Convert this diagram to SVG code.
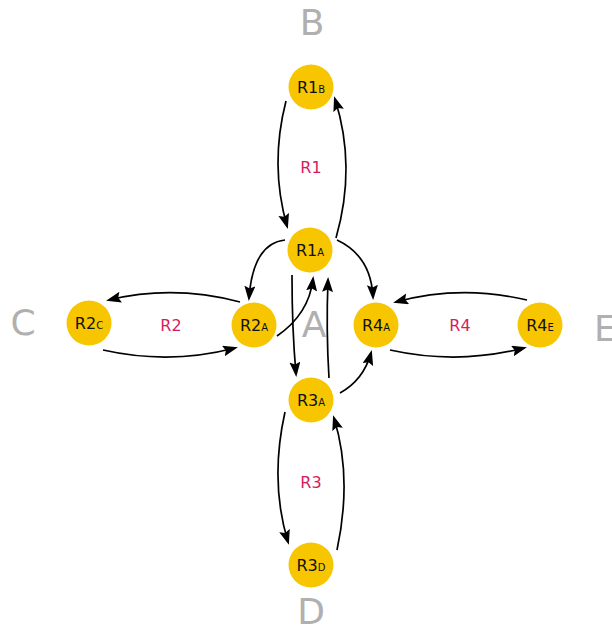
<svg xmlns="http://www.w3.org/2000/svg" width="612" height="630" viewBox="0 0 612 630">
<style>
.node circle{fill:#f7c600}
.node text{font-family:"DejaVu Sans",sans-serif;font-size:16px;fill:#111;text-anchor:middle}
.sub{font-size:10px}
.region{font-family:"DejaVu Sans",sans-serif;font-size:36px;fill:#b0b0b0}
.rl{font-family:"DejaVu Sans",sans-serif;font-size:16px;fill:#d81b60;text-anchor:middle}
.edges path{fill:none;stroke:#000;stroke-width:1.7;marker-end:url(#ah)}
</style>
<defs>
<marker id="ah" markerUnits="userSpaceOnUse" markerWidth="16" markerHeight="12" refX="12" refY="5.5" orient="auto">
<path d="M0,0 L15,5.5 L0,11 L2.5,5.5 z" fill="#000"/>
</marker>
</defs>
<rect width="612" height="630" fill="#fff"/>
<g id="regions">
<text class="region" x="312" y="35" text-anchor="middle">B</text>
<text class="region" x="23" y="335" text-anchor="middle">C</text>
<text class="region" x="311" y="624" text-anchor="middle">D</text>
<text class="region" x="594" y="341">E</text>
<text class="region" x="314" y="337" text-anchor="middle">A</text>
</g>
<g id="labels">
<text class="rl" x="311" y="173">R1</text>
<text class="rl" x="171" y="331">R2</text>
<text class="rl" x="311" y="488">R3</text>
<text class="rl" x="460" y="331">R4</text>
</g>
<g class="edges" id="connectors">
<path d="M286,101 Q269.5,165 287,226"/>
<path d="M336,238 Q356.5,166.5 335,99"/>
<path d="M285,240 Q253,243.5 249,298"/>
<path d="M337,240 Q371,256 373,297"/>
<path d="M277,336 Q309,314 313,279"/>
<path d="M292,275 Q292,330 296,374"/>
<path d="M329,378 Q326,330 328,280"/>
<path d="M340,393 Q363.5,380 371,353"/>
<path d="M240,302 Q173,284.5 109,300"/>
<path d="M103,350 Q170,365 235,348"/>
<path d="M527,300 Q460,284.5 396,302"/>
<path d="M390,350 Q458,365 524,348"/>
<path d="M285,412 Q269.5,481.5 288,542"/>
<path d="M337,550 Q352.5,477.5 334,418"/>
</g>
<g class="node" id="R1B"><circle cx="311" cy="87" r="22.5"/><text x="311" y="93">R1<tspan class="sub">B</tspan></text></g>
<g class="node" id="R1A"><circle cx="310" cy="250" r="22.5"/><text x="310" y="256">R1<tspan class="sub">A</tspan></text></g>
<g class="node" id="R2C"><circle cx="89" cy="323" r="22.5"/><text x="89" y="329">R2<tspan class="sub">C</tspan></text></g>
<g class="node" id="R2A"><circle cx="254" cy="325" r="22.5"/><text x="254" y="331">R2<tspan class="sub">A</tspan></text></g>
<g class="node" id="R4A"><circle cx="376" cy="325" r="22.5"/><text x="376" y="331">R4<tspan class="sub">A</tspan></text></g>
<g class="node" id="R4E"><circle cx="540" cy="325" r="22.5"/><text x="540" y="331">R4<tspan class="sub">E</tspan></text></g>
<g class="node" id="R3A"><circle cx="311" cy="400" r="22.5"/><text x="311" y="406">R3<tspan class="sub">A</tspan></text></g>
<g class="node" id="R3D"><circle cx="311" cy="565" r="22.5"/><text x="311" y="571">R3<tspan class="sub">D</tspan></text></g>
</svg>
